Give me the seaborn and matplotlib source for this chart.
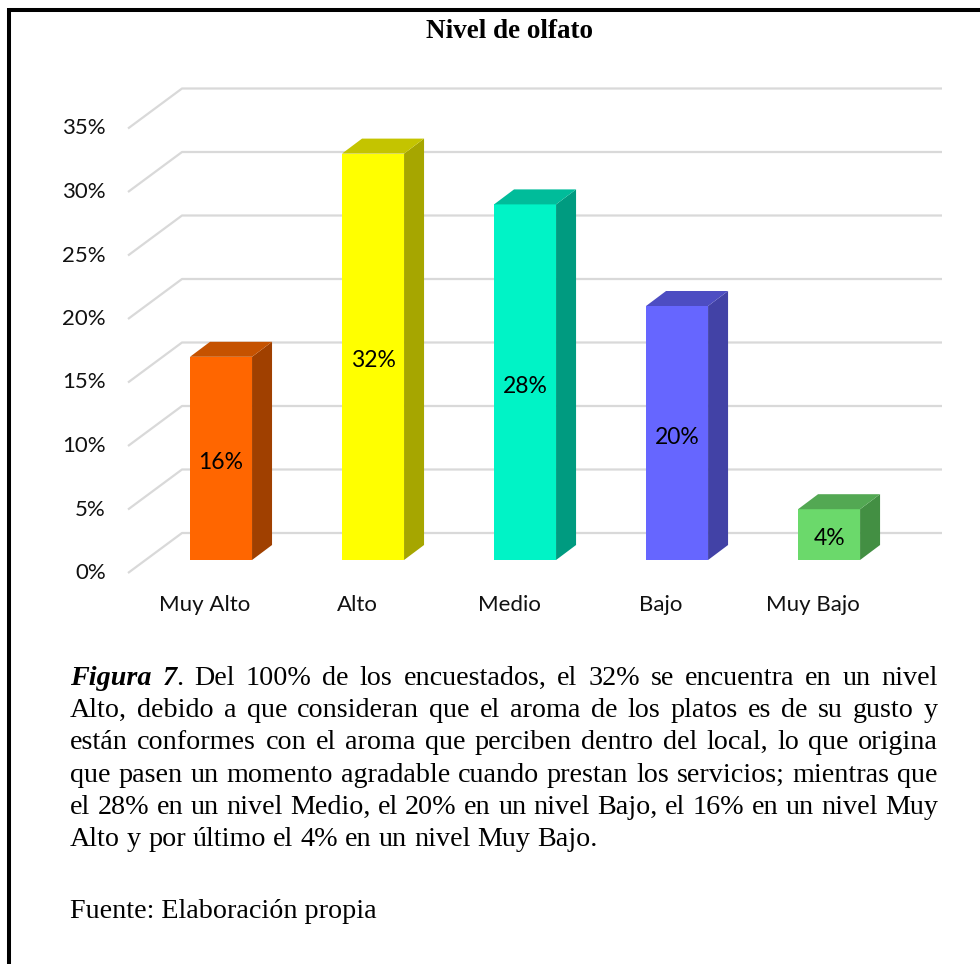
import numpy as np
import pandas as pd
import matplotlib
matplotlib.use("Agg")
import matplotlib.pyplot as plt
import seaborn as sns
from matplotlib.patches import Polygon
from matplotlib.lines import Line2D
from matplotlib.transforms import IdentityTransform, offset_copy

# ---- data -------------------------------------------------------------
categories = ["Muy Alto", "Alto", "Medio", "Bajo", "Muy Bajo"]
values = [0.16, 0.32, 0.28, 0.20, 0.04]
value_labels = ["16%", "32%", "28%", "20%", "4%"]
front_colors = ["#FF6600", "#FFFF00", "#00F3C6", "#6666FF", "#6BD96B"]
side_colors = ["#A04000", "#A6A600", "#009B80", "#4242A6", "#438F43"]
top_colors = ["#C55200", "#C4C400", "#00BC9A", "#4D4DC2", "#53A853"]
y_ticks = [0.00, 0.05, 0.10, 0.15, 0.20, 0.25, 0.30, 0.35]
y_tick_labels = ["0%", "5%", "10%", "15%", "20%", "25%", "30%", "35%"]
title = "Nivel de olfato"
caption_emphasis = "Figura 7"
caption_lines = [
    "Figura 7. Del 100% de los encuestados, el 32% se encuentra en un nivel",
    "Alto, debido a que consideran que el aroma de los platos es de su gusto y",
    "están conformes con el aroma que perciben dentro del local, lo que origina",
    "que pasen un momento agradable cuando prestan los servicios; mientras que",
    "el 28% en un nivel Medio, el 20% en un nivel Bajo, el 16% en un nivel Muy",
    "Alto y por último el 4% en un nivel Muy Bajo.",
]
source_line = "Fuente: Elaboración propia"

# ---- figure -----------------------------------------------------------
W, H, DPI = 980, 964, 100
sns.set_theme(style="white")
plt.rcParams["font.family"] = ["Lato", "DejaVu Sans"]
fig = plt.figure(figsize=(W / DPI, H / DPI), dpi=DPI)
fig.patch.set_facecolor("white")

# 3-D look: depth of the bars and of the floor, in pixels
BAR_DX, BAR_DY = 20, 15
FLOOR_FRONT, FLOOR_BACK, FLOOR_DX = -13, 27, 54
Y_MAX = 0.36
PX_PER_UNIT = 1270
base_px = 560

ax_left, ax_right = 128, 942
ax_top = base_px - Y_MAX * PX_PER_UNIT
ax = fig.add_axes([ax_left / W, 1 - base_px / H,
                   (ax_right - ax_left) / W, (base_px - ax_top) / H])

df = pd.DataFrame({"nivel": categories, "pct": values})
sns.barplot(data=df, x="nivel", y="pct", hue="nivel", palette=front_colors,
            saturation=1, width=0.408, legend=False, ax=ax,
            edgecolor="none", linewidth=0, zorder=3)
ax.set_ylim(0, Y_MAX)
ax.set_xlim(-0.612, 4.743)
ax.set_axis_off()

ident = IdentityTransform()

# gridlines: a slanted segment along the floor side, then the back wall
grid_color = "#D9D9D9"
for v in y_ticks:
    yd = ax.transData.transform((0, v))[1]
    x0 = ax.bbox.x0
    xs = [x0, x0 + FLOOR_DX, ax.bbox.x1]
    ys = [yd + FLOOR_FRONT, yd + FLOOR_BACK, yd + FLOOR_BACK]
    ax.add_line(Line2D(xs, ys, transform=ident, color=grid_color, lw=1.6,
                       zorder=1, solid_capstyle="butt", clip_on=False))

# y tick labels at the front end of each gridline
ylab_tr = offset_copy(ax.get_yaxis_transform(), fig=fig, x=-22, y=FLOOR_FRONT, units="dots")
for v, lab in zip(y_ticks, y_tick_labels):
    ax.text(0, v, lab, transform=ylab_tr, ha="right", va="center",
            fontsize=16, color="#111111", clip_on=False)

# side and top faces for every bar
for patch in ax.patches[:]:
    x0, w, h = patch.get_x(), patch.get_width(), patch.get_height()
    i = int(round(x0 + w / 2))
    (px0, py0) = ax.transData.transform((x0, 0))
    (px1, py1) = ax.transData.transform((x0 + w, h))
    side = [(px1, py0), (px1, py1), (px1 + BAR_DX, py1 + BAR_DY), (px1 + BAR_DX, py0 + BAR_DY)]
    top = [(px0, py1), (px1, py1), (px1 + BAR_DX, py1 + BAR_DY), (px0 + BAR_DX, py1 + BAR_DY)]
    ax.add_patch(Polygon(side, closed=True, transform=ident, facecolor=side_colors[i],
                         edgecolor="none", zorder=3, clip_on=False))
    ax.add_patch(Polygon(top, closed=True, transform=ident, facecolor=top_colors[i],
                         edgecolor="none", zorder=3, clip_on=False))

# value labels in the middle of each front face
val_tr = offset_copy(ax.transData, fig=fig, x=0, y=-4, units="dots")
for i, (v, lab) in enumerate(zip(values, value_labels)):
    ax.text(i, v / 2, lab, transform=val_tr, ha="center", va="center",
            fontsize=16.5, color="black", zorder=5)

# category labels in front of the floor
cat_tr = offset_copy(ax.transData, fig=fig, x=-16, y=-45, units="dots")
for i, cat in enumerate(categories):
    ax.text(i, 0, cat, transform=cat_tr, ha="center", va="center",
            fontsize=16, color="#111111", clip_on=False)

# title
serif = ["Liberation Serif", "DejaVu Serif"]
fig.text(509 / W, 1 - 32 / H, title, ha="center", va="center", fontsize=19.5,
         fontweight="bold", family=serif, color="black")

# frame (top and left rules)
fig.add_artist(Line2D([9, W], [H - 10, H - 10], transform=ident, color="black", lw=2.9,
                      solid_capstyle="butt"))
fig.add_artist(Line2D([9, 9], [H - 8, 0], transform=ident, color="black", lw=2.9,
                      solid_capstyle="butt"))

# ---- justified caption -------------------------------------------------
renderer = fig.canvas.get_renderer()
TEXT_LEFT, TEXT_RIGHT = 70, 938
text_w = TEXT_RIGHT - TEXT_LEFT


def styles(kind):
    if kind == "bi":
        return dict(family=serif, fontweight="bold", fontstyle="italic")
    return dict(family=serif)


def width(s, kind, fs):
    t = fig.text(0, 0, s, fontsize=fs, **styles(kind))
    wpx = t.get_window_extent(renderer).width
    t.remove()
    return wpx


def line_words(idx, line):
    words, pos = [], 0
    emph = len(caption_emphasis) if idx == 0 else 0
    for word in line.split(" "):
        pieces = []
        a, b = pos, pos + len(word)
        if a < emph:
            cut = min(b, emph)
            pieces.append((line[a:cut], "bi"))
            if cut < b:
                pieces.append((line[cut:b], "n"))
        else:
            pieces.append((word, "n"))
        words.append(pieces)
        pos = b + 1
    return words


def word_width(pieces, fs):
    return sum(width(s, k, fs) for s, k in pieces)


def space_width(fs):
    return width("x x", "n", fs) - width("xx", "n", fs)


all_words = [line_words(i, ln) for i, ln in enumerate(caption_lines)]

fs = 21.0
while fs > 12:
    sp = space_width(fs)
    natural = max(sum(word_width(w, fs) for w in ws) + sp * (len(ws) - 1)
                  for ws in all_words[:-1])
    if natural <= text_w:
        break
    fs -= 0.25

sp = space_width(fs)
LINE_STEP = 32.2
first_base = 685
for li, ws in enumerate(all_words):
    widths = [word_width(w, fs) for w in ws]
    justified = li < len(all_words) - 1
    gap = (text_w - sum(widths)) / (len(ws) - 1) if justified else sp
    x = TEXT_LEFT
    y = H - (first_base + li * LINE_STEP)
    for w, ww in zip(ws, widths):
        xx = x
        for s, k in w:
            fig.text(xx, y, s, transform=ident, ha="left", va="baseline",
                     fontsize=fs, color="black", **styles(k))
            xx += width(s, k, fs)
        x += ww + gap

fig.text(TEXT_LEFT, H - 918, source_line, transform=ident, ha="left", va="baseline",
         fontsize=fs, color="black", **styles("n"))

fig.savefig("out.png", dpi=DPI, facecolor="white")
